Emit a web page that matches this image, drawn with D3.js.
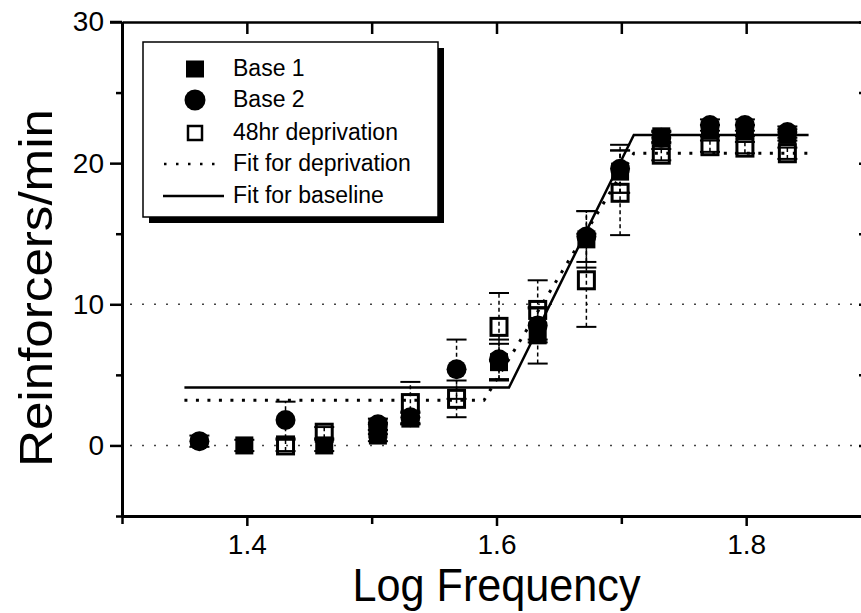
<!DOCTYPE html>
<html>
<head>
<meta charset="utf-8">
<script src="https://cdn.jsdelivr.net/npm/d3@7"></script>
<style>
  body { margin: 0; background: #fff; }
  text { font-family: 'Liberation Sans', Arial, sans-serif; fill: #000; }
</style>
</head>
<body>
<script>
const logFreq = [1.362, 1.398, 1.431, 1.462, 1.505, 1.531, 1.568, 1.602, 1.633, 1.672, 1.699, 1.732, 1.771, 1.799, 1.833];
const base1 = [null, 0.0, null, 0.0, 0.7, 1.9, null, 5.9, 7.8, 14.6, 19.4, 21.9, 22.3, 22.3, 22.0];
const base1Err = [0, 0.4, 0, 0.4, 0.4, 0.4, 0, 1.3, 2.0, 2.0, 1.5, 0.4, 0.4, 0.4, 0.4];
const base2 = [0.3, null, 1.8, null, 1.5, 2.0, 5.4, 6.1, 8.5, 14.8, 19.6, 21.8, 22.7, 22.7, 22.2];
const base2Err = [0.4, 0, 1.3, 0, 0.4, 0.4, 2.1, 1.4, 1.2, 1.8, 1.7, 0.4, 0.4, 0.4, 0.4];
const deprivation = [null, null, 0.0, 0.9, 1.2, 3.0, 3.3, 8.4, 9.6, 11.7, 17.9, 20.6, 21.2, 21.1, 20.7];
const deprivationErr = [0, 0, 0.4, 0.4, 0.4, 1.5, 1.3, 2.4, 2.1, 3.3, 3.0, 0.4, 0.4, 0.4, 0.4];

const fitBaseX = [1.35, 1.61, 1.71, 1.85];
const fitBaseY = [4.1, 4.1, 22.0, 22.0];
const fitDepX = [1.35, 1.59, 1.71, 1.85];
const fitDepY = [3.2, 3.2, 20.7, 20.7];

const xTicks = [1.4, 1.6, 1.8];
const xMinorTicks = [1.3, 1.5, 1.7, 1.9];
const yTicks = [0, 10, 20, 30];
const yMinorTicks = [-5, 5, 15, 25];
const gridValues = [0, 10];

const legendLabels = ['Base 1', 'Base 2', '48hr deprivation', 'Fit for deprivation', 'Fit for baseline'];

const width = 861, height = 613;

const x = d3.scaleLinear().domain([1.3, 1.9]).range([122, 871]);
const y = d3.scaleLinear().domain([-5, 30]).range([516, 22]);

const svg = d3.select('body').append('svg')
  .attr('width', width)
  .attr('height', height);

// dotted gridlines
svg.append('g')
  .selectAll('line')
  .data(gridValues)
  .enter().append('line')
  .attr('x1', x(1.3) + 8).attr('x2', x(1.9))
  .attr('y1', d => y(d)).attr('y2', d => y(d))
  .attr('stroke', '#444')
  .attr('stroke-width', 1.5)
  .attr('stroke-dasharray', '2,10');

// axes
const styleAxis = (g, w) => {
  g.select('.domain').attr('stroke-width', w);
  g.selectAll('.tick line').attr('stroke-width', 2.5);
  g.selectAll('.tick text')
    .style('font-family', "'Liberation Sans', Arial, sans-serif")
    .style('font-size', '28px');
};

svg.append('g')
  .attr('transform', 'translate(' + x(1.3) + ',0)')
  .call(d3.axisLeft(y).tickValues(yTicks).tickSize(12).tickSizeOuter(0).tickPadding(6).tickFormat(d3.format('d')))
  .call(g => styleAxis(g, 3));
svg.append('g')
  .attr('transform', 'translate(' + x(1.3) + ',0)')
  .call(d3.axisLeft(y).tickValues(yMinorTicks).tickSize(6).tickSizeOuter(0).tickFormat(''))
  .call(g => styleAxis(g, 3));

svg.append('g')
  .attr('transform', 'translate(0,' + y(-5) + ')')
  .call(d3.axisBottom(x).tickValues(xTicks).tickSize(10).tickSizeOuter(0).tickPadding(8).tickFormat(d3.format('.1f')))
  .call(g => styleAxis(g, 3));
svg.append('g')
  .attr('transform', 'translate(0,' + y(-5) + ')')
  .call(d3.axisBottom(x).tickValues(xMinorTicks).tickSize(8).tickSizeOuter(0).tickFormat(''))
  .call(g => styleAxis(g, 3));

svg.append('g')
  .attr('transform', 'translate(0,' + y(30) + ')')
  .call(d3.axisTop(x).tickValues(xTicks.concat(xMinorTicks)).tickSize(-12).tickSizeOuter(0).tickFormat(''))
  .call(g => styleAxis(g, 2.5));

svg.append('g')
  .attr('transform', 'translate(' + x(1.9) + ',0)')
  .call(d3.axisRight(y).tickValues(yTicks.concat(yMinorTicks)).tickSize(-12).tickSizeOuter(0).tickFormat(''))
  .call(g => styleAxis(g, 2.5));

// top-left corner stub of the frame
svg.append('line')
  .attr('x1', x(1.3) - 12).attr('x2', x(1.3))
  .attr('y1', y(30)).attr('y2', y(30))
  .attr('stroke', '#000').attr('stroke-width', 2.5);

// axis titles
svg.append('text')
  .attr('transform', 'translate(52,' + 288 + ')rotate(-90)')
  .attr('text-anchor', 'middle')
  .attr('textLength', 358)
  .attr('lengthAdjust', 'spacingAndGlyphs')
  .style('font-size', '47px')
  .text('Reinforcers/min');

svg.append('text')
  .attr('x', x(1.6))
  .attr('y', 601)
  .attr('text-anchor', 'middle')
  .attr('textLength', 288)
  .attr('lengthAdjust', 'spacingAndGlyphs')
  .style('font-size', '47px')
  .text('Log Frequency');

// fit lines
const line = d3.line().x(d => x(d[0])).y(d => y(d[1]));

svg.append('path')
  .datum(d3.zip(fitDepX, fitDepY))
  .attr('d', line)
  .attr('fill', 'none')
  .attr('stroke', '#000')
  .attr('stroke-width', 3)
  .attr('stroke-dasharray', '3,8.5');

svg.append('path')
  .datum(d3.zip(fitBaseX, fitBaseY))
  .attr('d', line)
  .attr('fill', 'none')
  .attr('stroke', '#000')
  .attr('stroke-width', 2.5);

// error bars
const series = [
  { values: base1, err: base1Err },
  { values: base2, err: base2Err },
  { values: deprivation, err: deprivationErr }
];

series.forEach(s => {
  const pts = logFreq.map((f, i) => ({ f: f, v: s.values[i], e: s.err[i] })).filter(d => d.v !== null && d.e > 0);
  const g = svg.append('g').attr('stroke', '#000');
  g.selectAll('.stem')
    .data(pts)
    .enter().append('line')
    .attr('x1', d => x(d.f)).attr('x2', d => x(d.f))
    .attr('y1', d => y(d.v - d.e)).attr('y2', d => y(d.v + d.e))
    .attr('stroke-width', 1.5)
    .attr('stroke-dasharray', '4,3');
  [-1, 1].forEach(sign => {
    g.selectAll('.cap' + sign)
      .data(pts)
      .enter().append('line')
      .attr('x1', d => x(d.f) - 10).attr('x2', d => x(d.f) + 10)
      .attr('y1', d => y(d.v + sign * d.e)).attr('y2', d => y(d.v + sign * d.e))
      .attr('stroke-width', 2);
  });
});

// markers
const pointsOf = vals => logFreq.map((f, i) => [f, vals[i]]).filter(d => d[1] !== null);

svg.append('g')
  .selectAll('rect')
  .data(pointsOf(deprivation))
  .enter().append('rect')
  .attr('x', d => x(d[0]) - 8).attr('y', d => y(d[1]) - 8.5)
  .attr('width', 16).attr('height', 17)
  .attr('fill', 'none')
  .attr('stroke', '#000')
  .attr('stroke-width', 3);

svg.append('g')
  .selectAll('rect')
  .data(pointsOf(base1))
  .enter().append('rect')
  .attr('x', d => x(d[0]) - 9).attr('y', d => y(d[1]) - 9)
  .attr('width', 18).attr('height', 18)
  .attr('fill', '#000');

svg.append('g')
  .selectAll('circle')
  .data(pointsOf(base2))
  .enter().append('circle')
  .attr('cx', d => x(d[0])).attr('cy', d => y(d[1]))
  .attr('r', 10)
  .attr('fill', '#000');

// legend
const legend = svg.append('g');
legend.append('rect')
  .attr('x', 149).attr('y', 48)
  .attr('width', 295).attr('height', 175)
  .attr('fill', '#000');
legend.append('rect')
  .attr('x', 143).attr('y', 42)
  .attr('width', 295).attr('height', 175)
  .attr('fill', '#fff')
  .attr('stroke', '#000')
  .attr('stroke-width', 1.5);

const rowY = [69, 100, 133, 164, 196];

legend.append('rect')
  .attr('x', 186).attr('y', rowY[0] - 8.5).attr('width', 18).attr('height', 17)
  .attr('fill', '#000');
legend.append('circle')
  .attr('cx', 195).attr('cy', rowY[1]).attr('r', 10.5)
  .attr('fill', '#000');
legend.append('rect')
  .attr('x', 188).attr('y', rowY[2] - 7).attr('width', 14).attr('height', 14)
  .attr('fill', 'none').attr('stroke', '#000').attr('stroke-width', 2.5);
legend.append('line')
  .attr('x1', 164).attr('x2', 224).attr('y1', rowY[3]).attr('y2', rowY[3])
  .attr('stroke', '#000').attr('stroke-width', 2.5).attr('stroke-dasharray', '2.5,9.5');
legend.append('line')
  .attr('x1', 163).attr('x2', 224).attr('y1', rowY[4]).attr('y2', rowY[4])
  .attr('stroke', '#000').attr('stroke-width', 2.5);

legend.selectAll('text')
  .data(legendLabels)
  .enter().append('text')
  .attr('x', 233)
  .attr('y', (d, i) => rowY[i] + 7)
  .style('font-size', '23px')
  .text(d => d);
</script>
</body>
</html>
